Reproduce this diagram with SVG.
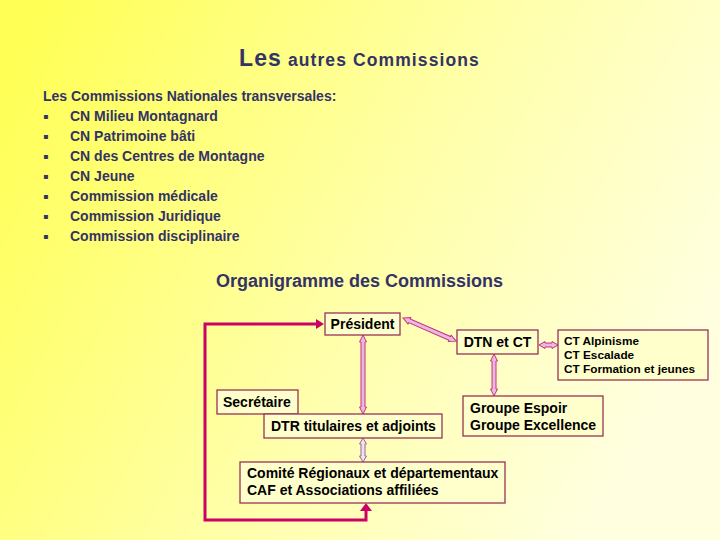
<svg xmlns="http://www.w3.org/2000/svg" width="720" height="540" viewBox="0 0 720 540">
<defs>
<linearGradient id="bg" x1="0" y1="0.15" x2="1" y2="0.55">
<stop offset="0" stop-color="#ffff55"/>
<stop offset="0.55" stop-color="#ffffa8"/>
<stop offset="1" stop-color="#ffffe0"/>
</linearGradient>
</defs>
<style>
.nav{font-family:"Liberation Sans",Arial,sans-serif;fill:#333366}
.lst{font-size:14px;font-weight:bold}
.bul{font-family:"DejaVu Sans",sans-serif;font-size:8px;fill:#333366}
.box{fill:#ffffcc;stroke:#993355;stroke-width:1.3}
.bt{font-family:"Liberation Sans",Arial,sans-serif;font-weight:bold;fill:#000;font-size:14px}
.ct{font-size:11.8px}
.dbl{fill:#e6b8e6;stroke:#cc3377;stroke-width:1}
.red{fill:none;stroke:#cc0066;stroke-width:3}
</style>
<rect width="720" height="540" fill="url(#bg)"/>
<text class="nav" x="239" y="66" font-weight="bold" letter-spacing="1.1"><tspan font-size="23">Les</tspan><tspan font-size="17.5"> autres Commissions</tspan></text>
<g class="nav lst">
<text x="43" y="101">Les Commissions Nationales transversales:</text>
<text x="70" y="121">CN Milieu Montagnard</text>
<text x="70" y="141">CN Patrimoine bâti</text>
<text x="70" y="161">CN des Centres de Montagne</text>
<text x="70" y="181">CN Jeune</text>
<text x="70" y="201">Commission médicale</text>
<text x="70" y="221">Commission Juridique</text>
<text x="70" y="241">Commission disciplinaire</text>
</g>
<g class="bul">
<text x="43" y="119">▪</text><text x="43" y="139">▪</text><text x="43" y="159">▪</text><text x="43" y="179">▪</text><text x="43" y="199">▪</text><text x="43" y="219">▪</text><text x="43" y="239">▪</text>
</g>
<text class="nav" x="216" y="287" font-size="18" font-weight="bold">Organigramme des Commissions</text>
<g id="connectors">
<polyline class="red" points="366,509 366,520 205,520 205,324 316,324"/>
<path d="M360,511 L366,503 L372,511 Z" fill="#cc0066"/>
<path d="M316,319 L324,324 L316,329 Z" fill="#cc0066"/>
<g transform="translate(363,335) rotate(90)"><polygon class="dbl" points="0,0 7,-3.5 7,-2 72,-2 72,-3.5 79,0 72,3.5 72,2 7,2 7,3.5"/></g>
<g transform="translate(403,318) rotate(23.5)"><polygon class="dbl" points="0,0 7,-3.5 7,-2 51,-2 51,-3.5 58,0 51,3.5 51,2 7,2 7,3.5"/></g>
<g transform="translate(539,345)"><polygon class="dbl" points="0,0 6,-3.5 6,-2 13,-2 13,-3.5 19,0 13,3.5 13,2 6,2 6,3.5"/></g>
<g transform="translate(494,354) rotate(90)"><polygon class="dbl" points="0,0 7,-3.5 7,-2 35,-2 35,-3.5 42,0 35,3.5 35,2 7,2 7,3.5"/></g>
<g transform="translate(363,438) rotate(90)"><polygon class="dbl" points="0,0 6,-3.5 6,-2 18,-2 18,-3.5 24,0 18,3.5 18,2 6,2 6,3.5" style="fill:#f0e0f0;stroke:#996699"/></g>
</g>
<g id="president"><rect class="box" x="325" y="313" width="75" height="22"/><text class="bt" x="362.5" y="329" text-anchor="middle">Président</text></g>
<g id="dtn"><rect class="box" x="457" y="330" width="81" height="24"/><text class="bt" x="497.5" y="347" text-anchor="middle">DTN et CT</text></g>
<g id="ct"><rect class="box" x="558" y="330" width="150" height="50"/><text class="bt ct" x="564" y="345">CT Alpinisme</text><text class="bt ct" x="564" y="359">CT Escalade</text><text class="bt ct" x="564" y="373">CT Formation et jeunes</text></g>
<g id="secretaire"><rect class="box" x="217" y="390" width="81" height="24"/><text class="bt" x="223" y="407">Secrétaire</text></g>
<g id="dtr"><rect class="box" x="264" y="414" width="178" height="24"/><text class="bt" x="271" y="431">DTR titulaires et adjoints</text></g>
<g id="groupe"><rect class="box" x="463" y="396" width="140" height="40"/><text class="bt" x="470" y="413">Groupe Espoir</text><text class="bt" x="470" y="430">Groupe Excellence</text></g>
<g id="comite"><rect class="box" x="240" y="462" width="265" height="41"/><text class="bt" x="247" y="478">Comité Régionaux et départementaux</text><text class="bt" x="247" y="495">CAF et Associations affiliées</text></g>
</svg>
